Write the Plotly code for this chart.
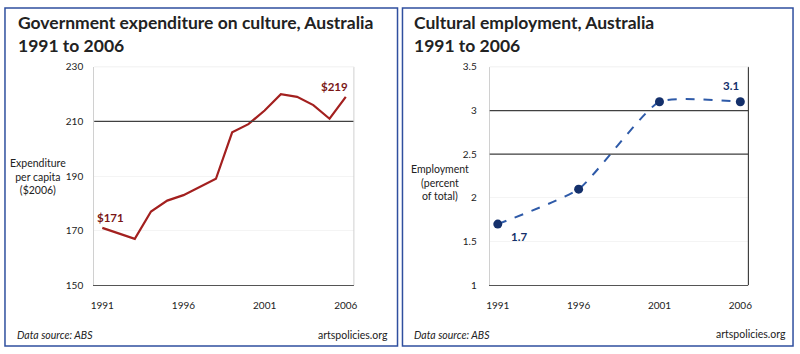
import plotly.graph_objects as go

W, H = 800, 354

# Left chart data
exp_years = list(range(1991, 2007))
exp_values = [171, 169, 167, 177, 181, 183, 186, 189, 206, 209, 214, 220, 219, 216, 211, 219]
exp_ticks = [150, 170, 190, 210, 230]

# Right chart data
emp_years = [1991, 1996, 2001, 2006]
emp_values = [1.7, 2.1, 3.1, 3.1]
emp_ticks = [1, 1.5, 2, 2.5, 3, 3.5]

x_ticks = [1991, 1996, 2001, 2006]

FONT = "Lato, 'Open Sans', sans-serif"
RED = "#A3201F"
RED_DARK = "#7A1616"
NAVY = "#14306B"
BLUE = "#2E5AA8"
BORDER = "#2F4F9F"

def px(x):
    return x / W

def py(y):
    return 1 - y / H

fig = go.Figure()

fig.add_trace(go.Scatter(x=exp_years, y=exp_values, mode="lines",
                         line=dict(color=RED, width=2.2),
                         xaxis="x", yaxis="y", hoverinfo="skip"))
fig.add_trace(go.Scatter(x=emp_years, y=emp_values, mode="lines+markers",
                         line=dict(color=BLUE, width=2, dash="dash", shape="spline", smoothing=0.5),
                         marker=dict(color=NAVY, size=9),
                         xaxis="x2", yaxis="y2", hoverinfo="skip"))

axis_common = dict(tickfont=dict(family=FONT, size=10, color="#222"), ticks="", zeroline=False,
                   fixedrange=True)

fig.update_layout(
    width=W, height=H, margin=dict(l=0, r=0, t=0, b=0),
    paper_bgcolor="white", plot_bgcolor="white", showlegend=False,
    xaxis=dict(domain=[px(92), px(354)], range=[1990.5, 2006.5], tickvals=x_ticks,
               showgrid=False, showline=True, linecolor="#555", linewidth=1.2, anchor="y",
               ticklabelstandoff=11, **axis_common),
    yaxis=dict(domain=[py(289), py(63)], range=[150, 230], tickvals=exp_ticks,
               showgrid=True, gridcolor="#f4f4f4", showline=True, linecolor="#d0d0d0",
               anchor="x", ticklabelstandoff=8, **axis_common),
    xaxis2=dict(domain=[px(491), px(752)], range=[1990.5, 2006.5], tickvals=x_ticks,
                showgrid=False, showline=True, linecolor="#555", linewidth=1.2, anchor="y2",
                ticklabelstandoff=11, **axis_common),
    yaxis2=dict(domain=[py(289), py(63)], range=[1, 3.5], tickvals=emp_ticks,
                showgrid=True, gridcolor="#f4f4f4", showline=True, linecolor="#d0d0d0",
                anchor="x2", ticklabelstandoff=10, **axis_common),
)

shapes = []
# dark gridlines
shapes.append(dict(type="line", xref="x domain", yref="y", x0=0, x1=1, y0=210, y1=210,
                   line=dict(color="#404040", width=1.2)))
for v in [2.5, 3]:
    shapes.append(dict(type="line", xref="x2 domain", yref="y2", x0=0, x1=1, y0=v, y1=v,
                       line=dict(color="#404040", width=1.2)))
# plot area right / top edges
shapes.append(dict(type="line", xref="x domain", yref="y domain", x0=1, x1=1, y0=0, y1=1,
                   line=dict(color="#d0d0d0", width=1)))
shapes.append(dict(type="line", xref="x domain", yref="y domain", x0=0, x1=1, y0=1, y1=1,
                   line=dict(color="#f0f0f0", width=1)))
shapes.append(dict(type="line", xref="x2 domain", yref="y2 domain", x0=1, x1=1, y0=0, y1=1,
                   line=dict(color="#404040", width=1.2)))
shapes.append(dict(type="line", xref="x2 domain", yref="y2 domain", x0=0, x1=1, y0=1, y1=1,
                   line=dict(color="#f0f0f0", width=1)))
# panel borders
shapes.append(dict(type="rect", xref="paper", yref="paper", x0=px(2), x1=px(398), y0=py(352), y1=py(2),
                   line=dict(color=BORDER, width=1.5)))
shapes.append(dict(type="rect", xref="paper", yref="paper", x0=px(403), x1=px(797), y0=py(352), y1=py(2),
                   line=dict(color=BORDER, width=1.5)))
fig.update_layout(shapes=shapes)

ann = []
def text(x, y, t, size=10, color="#222", xanchor="left", yanchor="middle", bold=False, italic=False, align="left"):
    if bold:
        t = "<b>" + t + "</b>"
    if italic:
        t = "<i>" + t + "</i>"
    ann.append(dict(xref="paper", yref="paper", x=px(x), y=py(y), text=t, showarrow=False,
                    xanchor=xanchor, yanchor=yanchor, align=align,
                    font=dict(family=FONT, size=size, color=color)))

# Titles
text(13, 29, "Government expenditure on culture, Australia<br>1991 to 2006", size=17.5, color="#222",
     yanchor="middle", bold=True)
text(413, 29, "Cultural employment, Australia<br>1991 to 2006", size=17.5, color="#222",
     yanchor="middle", bold=True)
# Y axis titles
text(35, 176, "Expenditure<br>per capita<br>($2006)", size=10.5, xanchor="center", align="center")
text(441, 183, "Employment<br>(percent<br>of total)", size=10.5, xanchor="center", align="center")
# Footers
text(12, 341, "Data source: ABS", size=10.5, italic=True)
text(390, 341, "artspolicies.org", size=10.5, xanchor="right")
text(413, 341, "Data source: ABS", size=10.5, italic=True)
text(792, 339, "artspolicies.org", size=10.5, xanchor="right")

fig.update_layout(annotations=ann)

# Data labels, positioned on the axes' scales
data_labels = [
    dict(xref="x", yref="y", x=exp_years[0], y=exp_values[0], text="<b>$171</b>", xshift=8, yshift=10,
         font=dict(family=FONT, size=11.5, color=RED_DARK)),
    dict(xref="x", yref="y", x=exp_years[-1], y=exp_values[-1], text="<b>$219</b>", xshift=-11, yshift=10,
         font=dict(family=FONT, size=11.5, color=RED_DARK)),
    dict(xref="x2", yref="y2", x=emp_years[0], y=emp_values[0], text="<b>1.7</b>", xshift=21, yshift=-12,
         font=dict(family=FONT, size=11.5, color=NAVY)),
    dict(xref="x2", yref="y2", x=emp_years[-1], y=emp_values[-1], text="<b>3.1</b>", xshift=-9, yshift=16,
         font=dict(family=FONT, size=11.5, color=NAVY)),
]
for d in data_labels:
    d["showarrow"] = False
    fig.add_annotation(**d)

fig.write_html("out.html")
